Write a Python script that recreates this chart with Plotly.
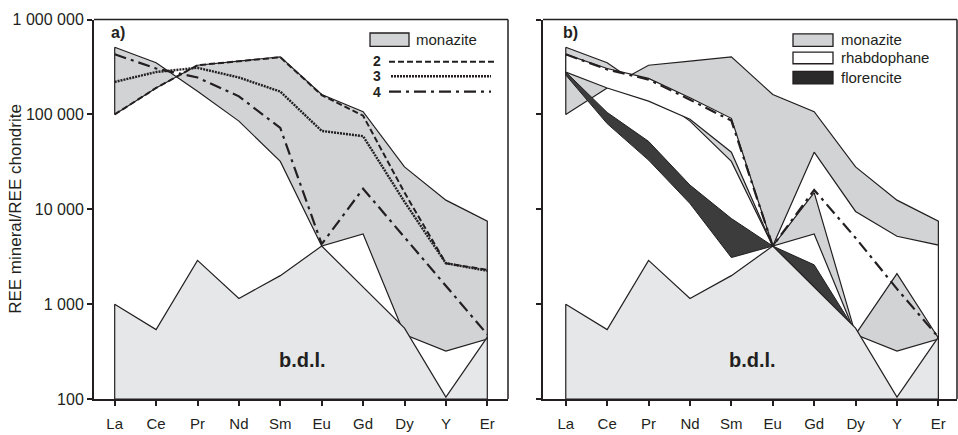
import plotly.graph_objects as go

W, H = 958, 435

# ---------------- data ----------------
ree = ["La", "Ce", "Pr", "Nd", "Sm", "Eu", "Gd", "Dy", "Y", "Er"]

# below detection limit envelope (both panels)
bdl = [1000, 540, 2900, 1150, 2000, 4100, 1530, 560, 105, 450]

# monazite envelope: two boundary paths La..Er
monazite_path_b = [100000, 190000, 330000, 365000, 405000, 162000, 107000, 28000, 12500, 7500]
monazite_path_a = [510000, 350000, 175000, 85000, 32000, 4100, 5500, 480, 320, 430]

# panel a analyses
line2 = [100000, 190000, 330000, 360000, 400000, 160000, 97000, 15000, 2700, 2300]
line3 = [220000, 280000, 310000, 245000, 174000, 67000, 59000, 12000, 2700, 2250]
line4 = [430000, 305000, 245000, 155000, 72000, 4300, 16500, 5100, 1550, 480]

# panel b rhabdophane envelope (two parts)
rhab_left_cats = ["La", "Ce", "Pr", "Nd", "Sm", "Eu"]
rhab_left_top = [430000, 305000, 240000, 150000, 91000, 4100]
rhab_left_bottom = [280000, 190000, 138000, 89000, 40000, 4100]
rhab_right_cats = ["Eu", "Gd", "Dy", "Y", "Er"]
rhab_right_top = [4100, 40000, 9500, 5200, 4200]
rhab_right_bottom = [4100, 15000, 480, 2100, 440]

# panel b florencite envelope (two parts)
flor_left_cats = ["La", "Ce", "Pr", "Nd", "Sm", "Eu"]
flor_left_top = [280000, 105000, 52000, 18000, 8000, 4100]
flor_left_bottom = [260000, 80000, 33000, 11500, 3100, 4100]
flor_right_cats = ["Eu", "Gd", "Dy"]
flor_right_top = [4100, 2600, 520]
flor_right_bottom = [4100, 1530, 520]

# panel b analysis (dash-dot)
line_b = [430000, 298000, 233000, 143000, 86000, 4100, 16000, 5000, 1450, 450]

y_tickvals = [100, 1000, 10000, 100000, 1000000]
y_ticktext = ["100", "1 000", "10 000", "100 000", "1 000 000"]

# ---------------- styles ----------------
INK = "#231f20"
MON = "#d1d3d4"
BDL = "#e6e7e8"
FLO = "#3c3c3c"
FONT = "Liberation Sans, Arial, sans-serif"


def poly(cats_top, top, cats_bot, bot):
    x = list(cats_top) + list(reversed(cats_bot)) + [cats_top[0]]
    y = list(top) + list(reversed(bot)) + [top[0]]
    return x, y


def fill_trace(x, y, color, xa, ya, lw=1.2):
    return go.Scatter(x=x, y=y, mode="lines", fill="toself", fillcolor=color,
                      line=dict(color=INK, width=lw), xaxis=xa, yaxis=ya,
                      hoverinfo="skip", showlegend=False)


def line_trace(y, dash, width, xa, ya):
    return go.Scatter(x=ree, y=y, mode="lines", line=dict(color=INK, width=width, dash=dash),
                      xaxis=xa, yaxis=ya, hoverinfo="skip", showlegend=False)


DASH2 = "6px,3px"
DASH3 = "2px,1px"
DASH4 = "12px,5px,3px,5px"

fig = go.Figure()

# ---- panel a ----
mx, my = poly(ree, monazite_path_a, ree, monazite_path_b)
fig.add_trace(fill_trace(mx, my, MON, "x", "y"))
bx = ["La"] + ree + ["Er", "La"]
by = [100] + bdl + [100, 100]
fig.add_trace(fill_trace(bx, by, BDL, "x", "y"))
fig.add_trace(line_trace(line2, DASH2, 2.0, "x", "y"))
fig.add_trace(line_trace(line3, DASH3, 2.4, "x", "y"))
fig.add_trace(line_trace(line4, DASH4, 2.2, "x", "y"))

# ---- panel b ----
fig.add_trace(fill_trace(mx, my, MON, "x2", "y2"))
x, y = poly(rhab_left_cats, rhab_left_top, rhab_left_cats, rhab_left_bottom)
fig.add_trace(fill_trace(x, y, "white", "x2", "y2"))
x, y = poly(rhab_right_cats, rhab_right_top, rhab_right_cats, rhab_right_bottom)
fig.add_trace(fill_trace(x, y, "white", "x2", "y2"))
x, y = poly(flor_left_cats, flor_left_top, flor_left_cats, flor_left_bottom)
fig.add_trace(fill_trace(x, y, FLO, "x2", "y2", lw=1.0))
x, y = poly(flor_right_cats, flor_right_top, flor_right_cats, flor_right_bottom)
fig.add_trace(fill_trace(x, y, FLO, "x2", "y2", lw=1.0))
fig.add_trace(fill_trace(bx, by, BDL, "x2", "y2"))
fig.add_trace(line_trace(line_b, DASH4, 2.2, "x2", "y2"))


def px(v):
    return v / W


def py(v):
    return 1 - v / H


ydom = [py(407), py(12)]
axis_common = dict(showgrid=False, zeroline=False, showline=True, linewidth=2, linecolor=INK,
                   ticks="outside", ticklen=5, tickwidth=1.5, tickcolor=INK)
xfont = dict(family=FONT, size=15, color=INK)
yfont = dict(family=FONT, size=16, color=INK)

fig.update_layout(
    width=W, height=H, margin=dict(l=0, r=0, t=0, b=0),
    paper_bgcolor="white", plot_bgcolor="white", showlegend=False,
    xaxis=dict(domain=[px(94), px(508)], type="category", categoryorder="array",
               categoryarray=ree, range=[-0.5, 9.5], anchor="y", tickfont=xfont,
               ticklabelstandoff=5, **axis_common),
    yaxis=dict(domain=ydom, type="log", range=[2, 6], anchor="x", tickfont=yfont,
               tickvals=y_tickvals, ticktext=y_ticktext, ticklabelstandoff=0, **axis_common),
    xaxis2=dict(domain=[px(543), px(957)], type="category", categoryorder="array",
                categoryarray=ree, range=[-0.55, 9.45], anchor="y2", tickfont=xfont,
                ticklabelstandoff=5, **axis_common),
    yaxis2=dict(domain=ydom, type="log", range=[2, 6], anchor="x2",
                tickvals=y_tickvals, showticklabels=False, **axis_common),
)

shapes = []
# top / right frame lines
for xr, yr in (("x domain", "y domain"), ("x2 domain", "y2 domain")):
    shapes.append(dict(type="line", xref=xr, yref=yr, x0=0, x1=1, y0=1, y1=1,
                       line=dict(color=INK, width=1.5)))
    shapes.append(dict(type="line", xref=xr, yref=yr, x0=1, x1=1, y0=0, y1=1,
                       line=dict(color=INK, width=1.5)))

annotations = []


def text(x, y, s, size=15, bold=False, xanchor="left", angle=0):
    annotations.append(dict(x=px(x), y=py(y), xref="paper", yref="paper", text=f"<b>{s}</b>" if bold else s,
                            showarrow=False, xanchor=xanchor, yanchor="middle", textangle=angle,
                            borderpad=0, font=dict(family=FONT, size=size, color=INK)))


def rect(x0, y0, x1, y1, color):
    shapes.append(dict(type="rect", xref="paper", yref="paper", x0=px(x0), x1=px(x1), y0=py(y1), y1=py(y0),
                       fillcolor=color, line=dict(color=INK, width=1.3)))


def hline(x0, x1, y, dash, width):
    shapes.append(dict(type="line", xref="paper", yref="paper", x0=px(x0), x1=px(x1), y0=py(y), y1=py(y),
                       line=dict(color=INK, width=width, dash=dash)))


# panel a legend
rect(370, 26, 409, 40, MON)
text(415, 33, "monazite")
text(377, 55, "2", size=14, bold=True, xanchor="center")
hline(389, 495, 56, DASH2, 2.0)
text(377, 71, "3", size=14, bold=True, xanchor="center")
hline(391, 491, 71, DASH3, 2.4)
text(377, 87, "4", size=14, bold=True, xanchor="center")
hline(389, 491, 87, DASH4, 2.2)

# panel b legend
rect(793, 27, 833, 40, MON)
rect(793, 46, 833, 58, "white")
rect(793, 66, 833, 79, "#2a2a2a")
text(840, 33, "monazite")
text(840, 52, "rhabdophane")
text(840, 72, "florencite")

# panel labels
text(110, 25, "a)", size=16, bold=True)
text(562, 25, "b)", size=16, bold=True)
text(302, 366, "b.d.l.", size=20, bold=True, xanchor="center")
text(752, 366, "b.d.l.", size=20, bold=True, xanchor="center")

# y-axis title
annotations.append(dict(x=px(16), y=py(209), xref="paper", yref="paper", text="REE mineral/REE chondrite",
                        showarrow=False, textangle=-90, xanchor="center", yanchor="middle",
                        font=dict(family=FONT, size=17, color=INK)))

fig.update_layout(shapes=shapes, annotations=annotations)

fig.write_html("out.html")
